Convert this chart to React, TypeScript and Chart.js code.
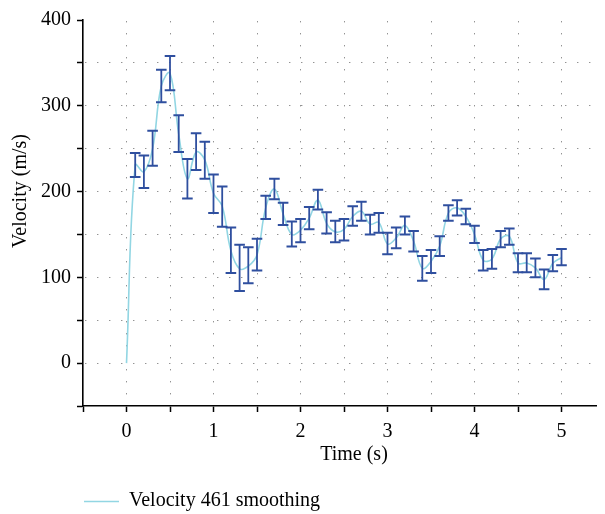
import React, { useEffect, useRef } from "react";
import { Chart, registerables } from "chart.js";

Chart.register(...registerables);

const times = [0.1, 0.2, 0.3, 0.4, 0.5, 0.6, 0.7, 0.8, 0.9, 1.0, 1.1, 1.2, 1.3, 1.4, 1.5, 1.6, 1.7, 1.8, 1.9, 2.0, 2.1, 2.2, 2.3, 2.4, 2.5, 2.6, 2.7, 2.8, 2.9, 3.0, 3.1, 3.2, 3.3, 3.4, 3.5, 3.6, 3.7, 3.8, 3.9, 4.0, 4.1, 4.2, 4.3, 4.4, 4.5, 4.6, 4.7, 4.8, 4.9, 5.0];
const meanVelocity = [231, 223, 250, 323, 338, 267, 215, 246, 237, 198, 183, 131, 110, 113, 126, 181, 203, 174, 150, 155, 169, 190, 163, 153, 156, 171, 177, 162, 164, 139, 146, 160.5, 142, 110.6, 118.5, 136.5, 175, 181, 171, 150, 120, 121.5, 144.6, 147.8, 116.7, 116.7, 111, 97.5, 116.5, 123];
const upperVelocity = [245, 242, 271, 342, 358, 289, 238, 268, 258, 220, 206, 158, 138, 135, 145, 195, 215, 187, 165, 168, 182, 202, 176, 166, 168, 183, 188, 173, 175, 152, 158, 171, 154, 125, 132, 148, 184, 190, 180, 160, 132, 133, 154, 157, 128, 128, 122, 109, 126, 133];
const lowerVelocity = [217, 204, 230, 304, 318, 246, 192, 225, 215, 175, 159, 105, 84, 93, 108, 168, 191, 161, 136, 141, 156, 179, 151, 141, 143, 160, 166, 150, 152, 127, 134, 150, 130, 96, 105, 125, 166, 172, 162, 140, 108, 110, 135, 138, 106, 106, 100, 86, 107, 114];
const startTime = 0;
const startVelocity = 0;
const xTickLabels = ["0", "1", "2", "3", "4", "5"];
const yTickLabels = ["0", "100", "200", "300", "400"];
const seriesLabel = "Velocity 461 smoothing";
const xTitle = "Time (s)";
const yTitle = "Velocity (m/s)";

const FONT = "'Liberation Serif', 'Times New Roman', serif";
const LINE_COLOR = "#92d6e3";
const BAR_COLOR = "#2f4f9f";

const errorBarPlugin = {
  id: "errorBars",
  afterDatasetsDraw(chart: any) {
    const { ctx, scales } = chart;
    const xs = scales.x;
    const ys = scales.y;
    ctx.save();
    ctx.strokeStyle = BAR_COLOR;
    for (let i = 0; i < times.length; i++) {
      const x = xs.getPixelForValue(times[i]);
      const yt = ys.getPixelForValue(upperVelocity[i]);
      const yb = ys.getPixelForValue(lowerVelocity[i]);
      ctx.lineWidth = 1.8;
      ctx.beginPath();
      ctx.moveTo(x, yt);
      ctx.lineTo(x, yb);
      ctx.stroke();
      ctx.lineWidth = 2;
      ctx.beginPath();
      ctx.moveTo(x - 5.3, yt);
      ctx.lineTo(x + 5.3, yt);
      ctx.moveTo(x - 5.3, yb);
      ctx.lineTo(x + 5.3, yb);
      ctx.stroke();
    }
    ctx.restore();
  },
};

const textPlugin = {
  id: "titlesAndLegend",
  afterDraw(chart: any) {
    const { ctx, chartArea } = chart;
    const ds = chart.data.datasets[0];
    ctx.save();
    ctx.fillStyle = "#000";
    ctx.font = `20px ${FONT}`;
    ctx.textBaseline = "middle";
    // x axis title
    ctx.textAlign = "center";
    ctx.fillText(xTitle, (chartArea.left + chartArea.right) / 2 + 10, 447);
    // y axis title
    ctx.save();
    ctx.translate(13, 183);
    ctx.rotate(-Math.PI / 2);
    ctx.fillText(yTitle, 0, 0);
    ctx.restore();
    // legend
    ctx.strokeStyle = ds.borderColor;
    ctx.lineWidth = 1.5;
    ctx.beginPath();
    ctx.moveTo(76, 493.5);
    ctx.lineTo(111, 493.5);
    ctx.stroke();
    ctx.textAlign = "left";
    ctx.fillText(ds.label, 121, 493);
    ctx.restore();
  },
};

export default function App() {
  const ref = useRef<HTMLCanvasElement | null>(null);
  useEffect(() => {
    if (!ref.current) return;
    const data = [{ x: startTime, y: startVelocity }].concat(
      times.map((t, i) => ({ x: t, y: meanVelocity[i] }))
    );
    const chart = new Chart(ref.current, {
      type: "line",
      data: {
        datasets: [
          {
            label: seriesLabel,
            data,
            borderColor: LINE_COLOR,
            backgroundColor: LINE_COLOR,
            borderWidth: 1.6,
            pointRadius: 0,
            tension: 0.4,
            fill: false,
          },
        ],
      },
      options: {
        animation: false,
        responsive: false,
        layout: { padding: { top: 12, bottom: 50, left: 0, right: 0 } },
        font: { family: FONT },
        plugins: { legend: { display: false }, tooltip: { enabled: false } },
        scales: {
          x: {
            type: "linear",
            min: -0.5,
            max: 5.5,
            afterFit: (s: any) => {
              s.height = 58;
              s.paddingLeft = 0;
              s.paddingRight = 0;
            },
            ticks: {
              stepSize: 0.5,
              autoSkip: false,
              maxRotation: 0,
              padding: 8,
              color: "#000",
              font: { family: FONT, size: 20 },
              callback: (v: any) => {
                const n = Number(v);
                const idx = xTickLabels.indexOf(String(n));
                return Number.isInteger(n) && idx >= 0 ? xTickLabels[idx] : "";
              },
            },
            grid: {
              color: (c: any) => {
                const v = c.tick ? c.tick.value : 0;
                return v <= -0.5 || v >= 5.5 ? "rgba(0,0,0,0)" : "#666";
              },
              lineWidth: 1,
              tickColor: "#000",
              tickLength: 6,
              tickWidth: 1.5,
              tickBorderDash: [],
            },
            border: { display: true, color: "#000", width: 1.6, dash: [1, 11], dashOffset: -1.3 },
            title: { display: false },
          },
          y: {
            type: "linear",
            min: -50,
            max: 400,
            afterFit: (s: any) => {
              s.width = 75;
              s.paddingTop = 0;
              s.paddingBottom = 0;
            },
            ticks: {
              stepSize: 50,
              autoSkip: false,
              padding: 6,
              color: "#000",
              font: { family: FONT, size: 20 },
              callback: (v: any) => {
                const n = Number(v);
                const idx = yTickLabels.indexOf(String(n));
                return idx >= 0 ? yTickLabels[idx] : "";
              },
            },
            grid: {
              color: (c: any) => {
                const v = c.tick ? c.tick.value : 0;
                return v <= -50 || v >= 400 ? "rgba(0,0,0,0)" : "#666";
              },
              lineWidth: 1,
              tickColor: "#000",
              tickLength: 6,
              tickWidth: 1.5,
              tickBorderDash: [],
            },
            border: { display: true, color: "#000", width: 1.6, dash: [1, 11], dashOffset: -1.7 },
            title: { display: false },
          },
        },
      } as any,
      plugins: [errorBarPlugin, textPlugin],
    });
    return () => chart.destroy();
  }, []);
  return (
    <canvas
      ref={ref}
      width={597}
      height={506}
      style={{ display: "block", width: "597px", height: "506px" }}
    />
  );
}
